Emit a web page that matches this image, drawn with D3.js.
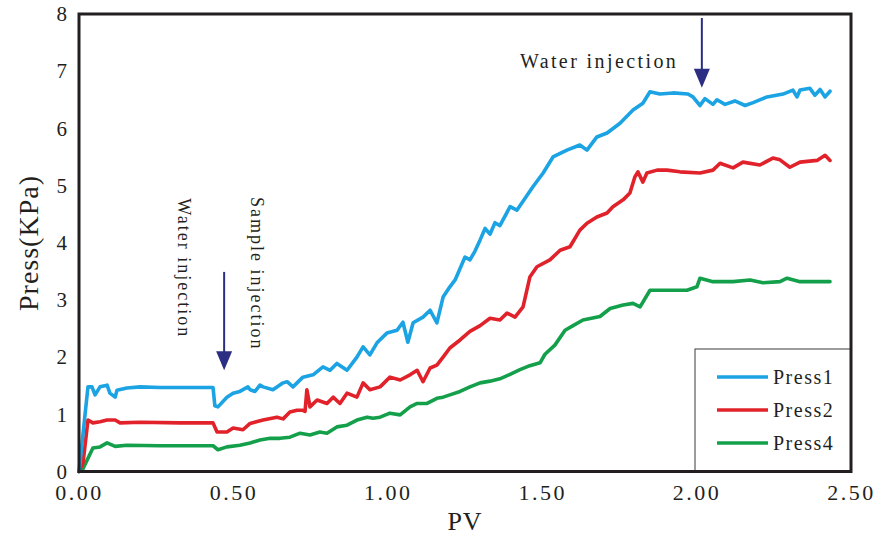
<!DOCTYPE html>
<html>
<head>
<meta charset="utf-8">
<script src="https://cdn.jsdelivr.net/npm/d3@7"></script>
<style>
body { margin: 0; background: #fff; }
text { font-family: "Liberation Serif", "Times New Roman", serif; fill: #231f20; }
</style>
</head>
<body>
<div id="chart"></div>
<script>
// values
var pv1 = [0, 0.006, 0.029, 0.042, 0.052, 0.068, 0.091, 0.100, 0.117, 0.123, 0.155, 0.198, 0.262, 0.327, 0.392, 0.434, 0.440, 0.450, 0.479, 0.499,
  0.521, 0.547, 0.554, 0.570, 0.586, 0.596, 0.628, 0.661, 0.674, 0.693, 0.725, 0.758, 0.790, 0.813, 0.835, 0.868, 0.900, 0.920, 0.942, 0.965,
  0.997, 1.030, 1.049, 1.065, 1.082, 1.114, 1.137, 1.159, 1.179, 1.201, 1.218, 1.234, 1.250, 1.266, 1.282, 1.299, 1.315, 1.331, 1.347, 1.363,
  1.396, 1.418, 1.470, 1.503, 1.535, 1.580, 1.622, 1.645, 1.677, 1.710, 1.752, 1.794, 1.826, 1.849, 1.881, 1.924, 1.972, 1.988, 2.011, 2.027,
  2.053, 2.066, 2.092, 2.124, 2.157, 2.183, 2.228, 2.280, 2.312, 2.325, 2.335, 2.367, 2.383, 2.400, 2.416, 2.432];
var press1 = [0, 0.30, 1.48, 1.48, 1.34, 1.48, 1.51, 1.37, 1.30, 1.42, 1.46, 1.48, 1.47, 1.47, 1.47, 1.47, 1.15, 1.13, 1.30, 1.37,
  1.40, 1.48, 1.43, 1.40, 1.51, 1.48, 1.43, 1.55, 1.57, 1.48, 1.65, 1.69, 1.83, 1.77, 1.89, 1.77, 2.00, 2.18, 2.04, 2.25,
  2.42, 2.47, 2.61, 2.26, 2.60, 2.70, 2.82, 2.60, 3.05, 3.23, 3.35, 3.55, 3.75, 3.70, 3.85, 4.05, 4.25, 4.15, 4.35, 4.30,
  4.63, 4.57, 4.98, 5.22, 5.50, 5.62, 5.71, 5.62, 5.85, 5.92, 6.09, 6.32, 6.44, 6.64, 6.60, 6.62, 6.60, 6.55, 6.40, 6.52,
  6.42, 6.50, 6.42, 6.48, 6.40, 6.45, 6.55, 6.60, 6.67, 6.55, 6.67, 6.70, 6.58, 6.68, 6.55, 6.65];

var pv2 = [0, 0.013, 0.029, 0.045, 0.068, 0.091, 0.117, 0.133, 0.198, 0.327, 0.434, 0.447, 0.479, 0.499, 0.531, 0.554, 0.596, 0.641, 0.661, 0.683,
  0.706, 0.725, 0.732, 0.738, 0.748, 0.771, 0.803, 0.823, 0.845, 0.868, 0.900, 0.920, 0.942, 0.975, 1.007, 1.040, 1.072, 1.095, 1.114, 1.137,
  1.159, 1.179, 1.201, 1.234, 1.266, 1.299, 1.331, 1.363, 1.386, 1.412, 1.438, 1.460, 1.483, 1.525, 1.558, 1.590, 1.622, 1.645, 1.677, 1.710,
  1.729, 1.762, 1.784, 1.800, 1.810, 1.826, 1.839, 1.872, 1.904, 1.946, 2.011, 2.053, 2.076, 2.118, 2.150, 2.205, 2.247, 2.270, 2.302, 2.335,
  2.390, 2.416, 2.432];
var press2 = [0, 0.15, 0.90, 0.85, 0.87, 0.90, 0.90, 0.85, 0.86, 0.85, 0.85, 0.69, 0.69, 0.76, 0.73, 0.84, 0.90, 0.95, 0.92, 1.04,
  1.07, 1.07, 1.05, 1.43, 1.13, 1.25, 1.19, 1.30, 1.19, 1.37, 1.30, 1.55, 1.43, 1.48, 1.65, 1.60, 1.69, 1.77, 1.57, 1.81,
  1.86, 2.00, 2.16, 2.30, 2.45, 2.55, 2.68, 2.65, 2.77, 2.70, 2.88, 3.40, 3.58, 3.70, 3.87, 3.93, 4.22, 4.34, 4.45, 4.52,
  4.63, 4.75, 4.87, 5.15, 5.24, 5.06, 5.22, 5.27, 5.27, 5.24, 5.22, 5.27, 5.39, 5.31, 5.41, 5.36, 5.48, 5.45, 5.32, 5.41,
  5.44, 5.53, 5.44];

var pv4 = [0, 0.013, 0.045, 0.068, 0.091, 0.117, 0.155, 0.262, 0.434, 0.450, 0.479, 0.521, 0.554, 0.586, 0.619, 0.651, 0.683, 0.716, 0.748, 0.780,
  0.803, 0.835, 0.868, 0.900, 0.933, 0.952, 0.975, 1.007, 1.040, 1.072, 1.095, 1.127, 1.159, 1.179, 1.201, 1.234, 1.266, 1.299, 1.331, 1.363,
  1.396, 1.428, 1.460, 1.493, 1.509, 1.541, 1.574, 1.600, 1.632, 1.687, 1.720, 1.762, 1.794, 1.817, 1.849, 1.881, 1.924, 1.969, 2.001, 2.011,
  2.053, 2.118, 2.173, 2.215, 2.270, 2.293, 2.335, 2.400, 2.432];
var press4 = [0, 0.05, 0.41, 0.43, 0.50, 0.44, 0.46, 0.45, 0.45, 0.38, 0.43, 0.46, 0.50, 0.55, 0.58, 0.58, 0.60, 0.67, 0.64, 0.69,
  0.67, 0.78, 0.81, 0.90, 0.95, 0.93, 0.95, 1.02, 0.99, 1.13, 1.19, 1.19, 1.28, 1.30, 1.34, 1.40, 1.48, 1.55, 1.58, 1.62,
  1.70, 1.78, 1.85, 1.90, 2.05, 2.21, 2.47, 2.55, 2.65, 2.71, 2.85, 2.91, 2.94, 2.88, 3.17, 3.17, 3.17, 3.17, 3.23, 3.38,
  3.32, 3.32, 3.35, 3.30, 3.32, 3.38, 3.32, 3.32, 3.32];

var seriesNames = ["Press1", "Press2", "Press4"];
var seriesColors = ["#1ba3e3", "#e1222b", "#14a04b"];
var xTicks = [0, 0.5, 1.0, 1.5, 2.0, 2.5];
var yTicks = [0, 1, 2, 3, 4, 5, 6, 7, 8];

// arrows: pv, from, to (KPa)
var arrows = [
  {pv: 0.470, from: 3.49, to: 1.77},
  {pv: 2.017, from: 7.93, to: 6.71}
];
var notes = [
  {text: "Water injection", pv: 1.428, v: 7.05, rot: 0},
  {text: "Water injection", pv: 0.321, v: 4.78, rot: 90},
  {text: "Sample injection", pv: 0.557, v: 4.80, rot: 90}
];

var W = 881, H = 536;
var mLeft = 79, mRight = 851, mTop = 14, mBottom = 471.5;

var svg = d3.select("#chart").append("svg")
  .attr("width", W)
  .attr("height", H);

svg.append("rect").attr("width", W).attr("height", H).attr("fill", "#fff");

var x = d3.scaleLinear().domain([0, 2.5]).range([mLeft, mRight]);
var y = d3.scaleLinear().domain([0, 8]).range([mBottom, mTop]);

var line = d3.line()
  .x(function(d) { return x(d[0]); })
  .y(function(d) { return y(d[1]); });

var series = [d3.zip(pv4, press4), d3.zip(pv2, press2), d3.zip(pv1, press1)];
var order = [2, 1, 0];

series.forEach(function(s, i) {
  svg.append("path")
    .datum(s)
    .attr("fill", "none")
    .attr("stroke", seriesColors[order[i]])
    .attr("stroke-width", 3.6)
    .attr("stroke-linejoin", "round")
    .attr("stroke-linecap", "round")
    .attr("d", line);
});

// axes, no tick marks
var gx = svg.append("g")
  .attr("transform", "translate(0," + mBottom + ")")
  .call(d3.axisBottom(x).tickValues(xTicks).tickFormat(d3.format(".2f")).tickSize(0).tickPadding(13));
gx.select(".domain").remove();
gx.selectAll("text")
  .style("font-family", "Liberation Serif")
  .style("font-size", "22px")
  .style("letter-spacing", "2.5px")
  .attr("fill", "#231f20");

var gy = svg.append("g")
  .attr("transform", "translate(" + mLeft + ",0)")
  .call(d3.axisLeft(y).tickValues(yTicks).tickFormat(d3.format("d")).tickSize(0).tickPadding(12));
gy.select(".domain").remove();
gy.selectAll("text")
  .style("font-family", "Liberation Serif")
  .style("font-size", "21px")
  .attr("fill", "#231f20");

// legend
var lg = svg.append("g");
lg.append("rect")
  .attr("x", 695).attr("y", 349)
  .attr("width", mRight - 695).attr("height", mBottom - 349)
  .attr("fill", "#fff")
  .attr("stroke", "#3a3a3a")
  .attr("stroke-width", 1);
seriesNames.forEach(function(n, i) {
  var ly = 377 + i * 33;
  lg.append("line")
    .attr("x1", 717).attr("x2", 768)
    .attr("y1", ly).attr("y2", ly)
    .attr("stroke", seriesColors[i])
    .attr("stroke-width", 3.6);
  lg.append("text")
    .attr("x", 773).attr("y", ly + 7)
    .style("font-size", "20px")
    .style("letter-spacing", "1.5px")
    .text(n);
});

// frame
svg.append("rect")
  .attr("x", mLeft).attr("y", mTop)
  .attr("width", mRight - mLeft).attr("height", mBottom - mTop)
  .attr("fill", "none")
  .attr("stroke", "#231f20")
  .attr("stroke-width", 3);

// annotations
arrows.forEach(function(a) {
  var ax = x(a.pv), y0 = y(a.from), y1 = y(a.to);
  svg.append("line")
    .attr("x1", ax).attr("x2", ax)
    .attr("y1", y0).attr("y2", y1 - 14)
    .attr("stroke", "#2b2e83")
    .attr("stroke-width", 2);
  svg.append("path")
    .attr("d", "M" + (ax - 8) + "," + (y1 - 19) + "L" + (ax + 8) + "," + (y1 - 19) + "L" + ax + "," + y1 + "Z")
    .attr("fill", "#2b2e83");
});

notes.forEach(function(n) {
  var t = svg.append("text")
    .style("font-size", n.rot ? "18px" : "20px")
    .style("letter-spacing", n.rot ? "2px" : "2.4px")
    .text(n.text);
  if (n.rot) {
    t.attr("transform", "translate(" + x(n.pv) + "," + y(n.v) + ") rotate(90)");
  } else {
    t.attr("x", x(n.pv)).attr("y", y(n.v));
  }
});

// axis titles
svg.append("text")
  .attr("transform", "translate(38,243) rotate(-90)")
  .attr("text-anchor", "middle")
  .style("font-size", "28px")
  .style("letter-spacing", "1px")
  .text("Press(KPa)");

svg.append("text")
  .attr("x", 465).attr("y", 530)
  .attr("text-anchor", "middle")
  .style("font-size", "26px")
  .style("letter-spacing", "1px")
  .text("PV");
</script>
</body>
</html>
